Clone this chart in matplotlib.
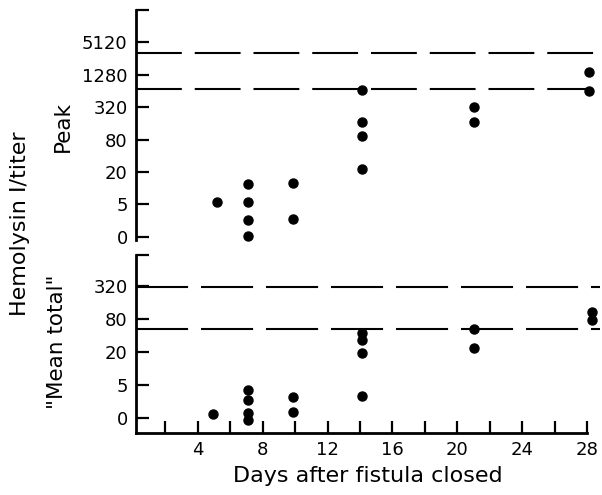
import matplotlib
matplotlib.use("Agg")
from matplotlib import pyplot as plt

# values are read in scale steps: 0 -> "0", 1 -> "5", 2 -> "20", ... (each step x4)
peak_ticks = ['0', '5', '20', '80', '320', '1280', '5120']
mean_ticks = ['0', '5', '20', '80', '320']

# peak titer
peak_days = [5.2, 7.1, 7.1, 7.1, 7.1, 9.9, 9.9, 14.1, 14.1, 14.1, 14.1, 21.0, 21.0, 28.1, 28.1]
peak_level = [1.07, 1.63, 1.07, 0.52, 0.02, 1.66, 0.55, 4.53, 3.54, 3.11, 2.09, 4.00, 3.54, 5.09, 4.50]
peak_ref = [5.67, 4.56]

# "mean total" titer
mean_days = [4.95, 7.1, 7.1, 7.1, 7.1, 9.9, 9.9, 14.1, 14.1, 14.1, 14.1, 21.0, 21.0, 28.3, 28.3]
mean_level = [0.13, 0.85, 0.55, 0.16, -0.06, 0.64, 0.19, 2.58, 2.37, 1.97, 0.67, 2.70, 2.13, 3.22, 2.97]
mean_ref = [3.97, 2.70]

day_major = [4, 8, 12, 16, 20, 24, 28]
day_minor = [2, 6, 10, 14, 18, 22, 26]

plt.rcParams['font.family'] = 'DejaVu Sans'

fig = plt.figure(figsize=(6.02, 4.95), dpi=100)
ax1 = fig.add_axes([0.2259, 0.5152, 0.7708, 0.4646])
ax2 = fig.add_axes([0.2259, 0.1253, 0.7708, 0.3596])

xlim = (0.19, 28.8)

# top panel
ax1.set_xlim(*xlim)
ax1.set_ylim(-0.1, 7.0)
for lv in peak_ref:
    ax1.axhline(lv, color='black', lw=1.5, dashes=(22, 6.2))
ax1.plot(peak_days, peak_level, 'o', color='black', ms=6.5, clip_on=False)
ax1.set_yticks(list(range(len(peak_ticks))) + [7.0])
ax1.set_yticklabels(peak_ticks + [''])
ax1.set_xticks([])
for s in ['top', 'right', 'bottom']:
    ax1.spines[s].set_visible(False)

# bottom panel
ax2.set_xlim(*xlim)
ax2.set_ylim(-0.45, 4.94)
for lv in mean_ref:
    ax2.axhline(lv, color='black', lw=1.5, dashes=(25, 6.2))
ax2.plot(mean_days, mean_level, 'o', color='black', ms=6.5, clip_on=False)
ax2.set_yticks(list(range(len(mean_ticks))) + [4.94])
ax2.set_yticklabels(mean_ticks + [''])
ax2.set_xticks(day_major)
ax2.set_xticks(day_minor, minor=True)
for s in ['top', 'right']:
    ax2.spines[s].set_visible(False)
ax2.spines['bottom'].set_bounds(0.19, 28)
ax2.set_xlabel('Days after fistula closed', fontsize=16, labelpad=5)

for ax in (ax1, ax2):
    ax.spines['left'].set_linewidth(2)
    ax.spines['bottom'].set_linewidth(2)
    ax.tick_params(axis='both', which='both', direction='in', length=9, width=1.6,
                   labelsize=13, pad=6)
    ax.tick_params(axis='x', pad=6)

fig.text(20 / 602, 1 - 224 / 495, 'Hemolysin I/titer', rotation=90,
         ha='center', va='center', fontsize=16)
fig.text(63 / 602, 1 - 126 / 495, 'Peak', rotation=90,
         ha='center', va='center', fontsize=15.5)
fig.text(57 / 602, 1 - 342 / 495, '"Mean total"', rotation=90,
         ha='center', va='center', fontsize=15.5)

fig.savefig('out.png', dpi=100)
